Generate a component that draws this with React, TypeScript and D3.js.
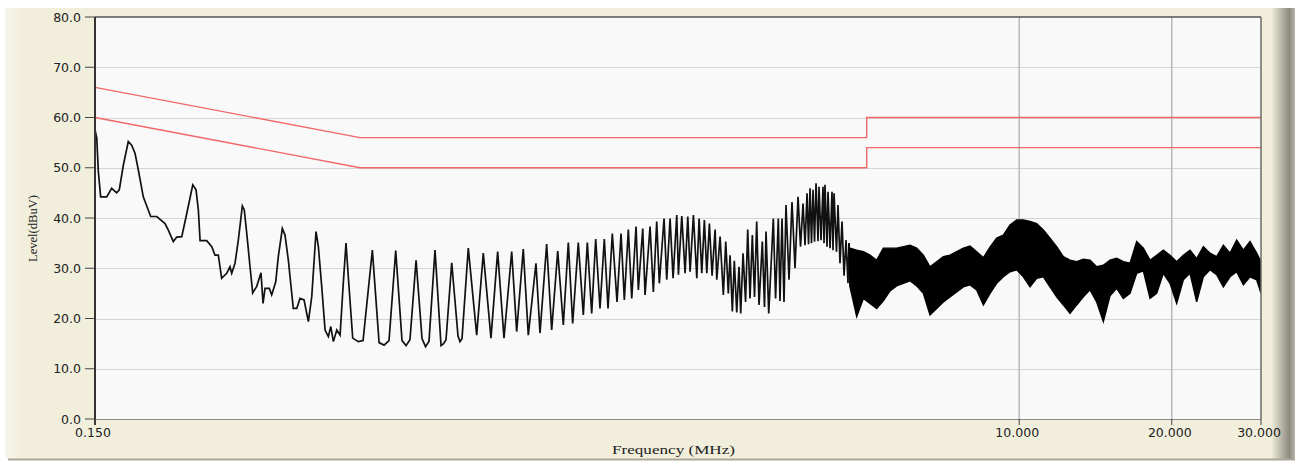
import { useEffect, useRef } from 'react';
import * as d3 from 'd3';

// limit lines (MHz / dBuV)
const limitFreq = [0.15, 0.5, 5, 5, 30];
const upperLimit = [66, 56, 56, 60, 60];
const lowerLimit = [60, 50, 50, 54, 54];

const traceFreq = [
    0.150, 0.1512, 0.1523, 0.1539, 0.1582, 0.1618, 0.1655, 0.1675, 0.1706, 0.1745,
    0.1772, 0.1799, 0.1826, 0.1868, 0.1932, 0.1986, 0.2062, 0.2093, 0.2141, 0.2175,
    0.2225, 0.2276, 0.2339, 0.2374, 0.2399, 0.2418, 0.2492, 0.2550, 0.2588, 0.2627,
    0.2667, 0.2729, 0.2770, 0.2792, 0.2834, 0.2877, 0.2930, 0.2956, 0.2989, 0.3034,
    0.3071, 0.3128, 0.3189, 0.3219, 0.3248, 0.3312, 0.3348, 0.3410, 0.3450, 0.3514,
    0.3557, 0.3611, 0.3693, 0.3752, 0.3808, 0.3878, 0.3955, 0.4016, 0.4095, 0.4139,
    0.4203, 0.4267, 0.4331, 0.4379, 0.4431, 0.4500, 0.4568, 0.4635, 0.4693, 0.4742,
    0.4838, 0.4962, 0.5071,
    0.5290, 0.5454, 0.5579, 0.5706, 0.5882, 0.6053, 0.6165, 0.6276, 0.6452, 0.6629,
    0.6735, 0.6843, 0.7032, 0.7227, 0.7310, 0.7393, 0.7587, 0.7807, 0.7878, 0.7950,
    0.8180, 0.8498, 0.8757, 0.9068, 0.9348, 0.9621, 0.9964, 1.0192, 1.0502, 1.0744,
    1.1126, 1.1331, 1.1680, 1.1949, 1.2282, 1.2597, 1.2888, 1.3145, 1.3485, 1.3796,
    1.4050, 1.4331, 1.4595, 1.4883, 1.5177, 1.5435, 1.5740, 1.6080, 1.6376, 1.6623,
    1.6928, 1.7192, 1.7532, 1.7715, 1.8074, 1.8263, 1.8683, 1.8965, 1.9260, 1.9488,
    1.9910, 2.0154, 2.0463, 2.0744, 2.1096, 2.1252, 2.1582, 2.1908, 2.2178, 2.2410,
    2.2752, 2.3106, 2.3348, 2.3634, 2.3913, 2.4179, 2.4464, 2.4765, 2.5109, 2.5301,
    2.5683, 2.6067, 2.6352, 2.6663, 2.6873, 2.7153, 2.7399, 2.7702, 2.7990, 2.8209,
    2.8508, 2.8837, 2.9121, 2.9426, 2.9738, 3.0035, 3.0333, 3.0656, 3.1118, 3.1428,
    3.1646, 3.204, 3.2712, 3.305, 3.3462, 3.372, 3.403, 3.434, 3.465, 3.513,
    3.561, 3.610, 3.660, 3.702, 3.744, 3.778, 3.813, 3.839, 3.865, 3.891,
    3.918, 3.945, 3.972, 4.008, 4.026, 4.063, 4.100, 4.119, 4.137, 4.175,
    4.194, 4.233, 4.271, 4.290, 4.310, 4.359, 4.389, 4.429, 4.470, 4.511,
    4.552, 4.593, 4.614,
];
const traceLevel = [
    57.6, 55.9, 49.2, 44.2, 44.2, 45.9, 45.0, 45.6, 50.5, 55.2,
    54.5, 52.9, 49.6, 44.2, 40.3, 40.3, 38.9, 37.6, 35.3, 36.2,
    36.3, 40.9, 46.6, 45.6, 41.6, 35.5, 35.5, 34.3, 32.6, 32.6,
    28.0, 29.0, 30.3, 29.0, 31.0, 35.6, 42.4, 41.6, 37.0, 30.3,
    25.1, 26.4, 29.1, 23.0, 26.0, 26.0, 24.7, 27.3, 32.3, 37.9,
    36.6, 31.6, 22.0, 22.0, 24.0, 23.7, 19.4, 24.3, 37.3, 34.3,
    26.3, 17.7, 16.4, 18.4, 15.4, 17.7, 16.7, 27.0, 35.0, 28.3,
    16.1, 15.4, 15.6,
    33.6, 15.2, 14.7, 15.6, 33.5, 15.6, 14.6, 15.8, 31.6, 16.0,
    14.4, 15.5, 33.6, 14.6, 15.0, 15.8, 31.1, 16.5, 15.4, 16.0,
    34.0, 16.7, 33.0, 16.1, 33.3, 16.1, 33.3, 17.4, 33.8, 16.7,
    31.0, 17.1, 34.8, 17.7, 33.4, 18.7, 35.1, 19.0, 35.1, 20.7,
    35.1, 21.0, 35.8, 22.0, 35.8, 22.0, 36.9, 23.3, 36.9, 23.7,
    37.7, 24.0, 38.3, 25.7, 37.9, 24.7, 38.3, 25.3, 39.3, 27.0,
    39.9, 27.7, 39.9, 28.0, 40.6, 28.7, 40.4, 29.0, 40.3, 29.3,
    40.6, 28.0, 39.9, 29.0, 39.6, 29.0, 38.9, 28.5, 37.7, 27.7,
    36.3, 24.7, 35.3, 25.0, 32.6, 21.4, 31.5, 21.2, 30.3, 21.0,
    33.0, 23.3, 37.7, 24.0, 36.6, 24.3, 39.3, 22.7, 35.3, 22.3,
    37.3, 21.0, 39.9, 24.0, 39.9, 23.5, 39.9, 23.3, 42.6, 27.7,
    43.2, 30.0, 44.2, 34.3, 42.9, 34.6, 44.9, 34.8, 45.9, 35.0,
    45.6, 35.3, 46.9, 35.4, 46.2, 35.6, 46.2, 35.0, 46.6, 34.3,
    45.2, 34.0, 45.2, 33.6, 44.9, 33.3, 42.6, 31.0, 39.3, 28.5,
    35.6, 27.0, 35.0,
];

// dense part 4.6 .. 30 MHz, upper / lower edge of the band
const bandFreq = [
    4.635, 4.778, 4.925, 5.076, 5.232, 5.393, 5.559, 5.730, 5.906, 6.088,
    6.275, 6.468, 6.667, 6.872, 7.083, 7.301, 7.526, 7.757, 7.996, 8.242,
    8.496, 8.757, 9.026, 9.304, 9.590, 9.885, 10.189, 10.502, 10.825, 11.158,
    11.501, 11.855, 12.220, 12.596, 12.983, 13.382, 13.794, 14.218, 14.655, 15.106,
    15.571, 16.050, 16.544, 17.053, 17.577, 18.118, 18.675, 19.249, 19.841, 20.451,
    21.080, 21.728, 22.396, 23.085, 23.795, 24.527, 25.282, 26.059, 26.861, 27.687,
    28.538, 29.416, 30.0,
];
const bandTop = [
    34.0, 33.6, 33.3, 32.6, 31.6, 34.0, 34.0, 34.0, 34.3, 34.6,
    34.0, 32.6, 30.3, 31.3, 32.3, 32.6, 33.3, 34.0, 34.4, 33.3,
    32.1, 34.2, 36.0, 36.6, 38.6, 39.6, 39.6, 39.3, 38.9, 37.6,
    36.0, 34.3, 32.3, 31.6, 31.3, 31.8, 31.6, 30.3, 30.6, 31.6,
    32.0, 31.3, 31.0, 35.3, 34.0, 31.6, 32.6, 33.6, 32.6, 31.3,
    32.6, 33.6, 31.9, 34.3, 33.0, 32.3, 34.6, 33.0, 35.6, 33.6,
    35.3, 33.0, 31.3,
];
const bandBottom = [
    26.3, 20.4, 24.0, 23.0, 22.0, 23.5, 25.5, 26.5, 27.0, 27.5,
    26.5, 25.0, 20.7, 22.0, 23.3, 24.3, 25.3, 26.3, 26.7, 25.7,
    22.7, 25.0, 27.0, 28.3, 29.3, 29.7, 28.3, 26.3, 28.0, 28.3,
    26.3, 24.3, 22.7, 21.0, 22.7, 24.3, 25.7, 23.3, 19.4, 24.5,
    26.0, 24.0, 25.0, 29.0, 29.5, 24.0, 25.0, 29.0, 27.0, 23.0,
    27.7, 29.0, 23.3, 28.3, 29.7, 28.7, 26.3, 28.3, 29.3, 26.7,
    28.3, 27.7, 25.0,
];

const yTicks = [0, 10, 20, 30, 40, 50, 60, 70, 80];
const xTicks = [0.15, 10, 20, 30];
const xGrid = [10, 20];

const W = 1295;
const H = 462;
const plot = { left: 95, right: 1261, top: 17, bottom: 419 };

function EmiChart() {
    const svgRef = useRef<SVGSVGElement>(null);

    useEffect(() => {
        if (!svgRef.current) return;
        const svg = d3.select(svgRef.current);
        svg.selectAll('*').remove();

        const x = d3.scaleLog().domain([0.15, 30]).range([plot.left, plot.right]);
        const y = d3.scaleLinear().domain([0, 80]).range([plot.bottom, plot.top]);

        const defs = svg.append('defs');
        const rg = defs.append('linearGradient').attr('id', 'rightEdge').attr('x1', '0').attr('x2', '1');
        rg.append('stop').attr('offset', '0').attr('stop-color', '#ece9d6');
        rg.append('stop').attr('offset', '0.75').attr('stop-color', '#8d8b80');
        rg.append('stop').attr('offset', '1').attr('stop-color', '#b8b6aa');
        const lg = defs.append('linearGradient').attr('id', 'leftEdge').attr('x1', '0').attr('x2', '1');
        lg.append('stop').attr('offset', '0').attr('stop-color', '#f8f6ec');
        lg.append('stop').attr('offset', '1').attr('stop-color', '#f1eedc');
        defs.append('clipPath').attr('id', 'plotClip')
            .append('rect')
            .attr('x', plot.left).attr('y', plot.top)
            .attr('width', plot.right - plot.left).attr('height', plot.bottom - plot.top);

        // panel
        svg.append('rect').attr('x', 0).attr('y', 0).attr('width', W).attr('height', H).attr('fill', '#ffffff');
        svg.append('rect').attr('x', 5).attr('y', 8).attr('width', W - 5).attr('height', 451).attr('fill', '#f1eedc');
        svg.append('rect').attr('x', 5).attr('y', 8).attr('width', 17).attr('height', 451).attr('fill', 'url(#leftEdge)');
        svg.append('rect').attr('x', 1272).attr('y', 8).attr('width', 23).attr('height', 451).attr('fill', 'url(#rightEdge)');
        svg.append('line').attr('x1', 8).attr('x2', W).attr('y1', 459.5).attr('y2', 459.5)
            .attr('stroke', '#a9a796').attr('stroke-width', 2);

        // plot area
        svg.append('rect')
            .attr('x', plot.left).attr('y', plot.top)
            .attr('width', plot.right - plot.left).attr('height', plot.bottom - plot.top)
            .attr('fill', '#f9f9f9');

        svg.append('g').selectAll('line')
            .data(yTicks.filter(t => t > 0 && t < 80))
            .join('line')
            .attr('x1', plot.left).attr('x2', plot.right)
            .attr('y1', d => Math.round(y(d)) + 0.5).attr('y2', d => Math.round(y(d)) + 0.5)
            .attr('stroke', '#d5d5d5').attr('stroke-width', 1.2);

        svg.append('g').selectAll('line')
            .data(xGrid)
            .join('line')
            .attr('x1', d => x(d)).attr('x2', d => x(d))
            .attr('y1', plot.top).attr('y2', plot.bottom)
            .attr('stroke', '#b9b9b9').attr('stroke-width', 1.5);

        const line = d3.line<[number, number]>().x(d => x(d[0])).y(d => y(d[1]));

        // limits
        svg.append('path')
            .attr('d', line(limitFreq.map((f, i) => [f, upperLimit[i]] as [number, number])))
            .attr('fill', 'none').attr('stroke', '#f26868').attr('stroke-width', 1.4);
        svg.append('path')
            .attr('d', line(limitFreq.map((f, i) => [f, lowerLimit[i]] as [number, number])))
            .attr('fill', 'none').attr('stroke', '#f26868').attr('stroke-width', 1.4);

        // trace
        const pts = traceFreq.map((f, i) => [f, traceLevel[i]] as [number, number]);
        const g = svg.append('g').attr('clip-path', 'url(#plotClip)');
        g.append('path')
            .attr('d', line(pts))
            .attr('fill', 'none').attr('stroke', '#111').attr('stroke-width', 1.7);

        const area = d3.area<number>()
            .x(i => x(bandFreq[i]))
            .y0(i => y(bandBottom[i]))
            .y1(i => y(bandTop[i]));
        g.append('path')
            .attr('d', area(d3.range(bandFreq.length)))
            .attr('fill', '#000').attr('stroke', '#000').attr('stroke-width', 1.4);
        g.append('path')
            .attr('d', line([pts[pts.length - 1], [bandFreq[0], bandBottom[0]]]))
            .attr('stroke', '#000').attr('stroke-width', 1.5);

        // frame
        svg.append('line').attr('x1', plot.left).attr('x2', plot.right).attr('y1', plot.top).attr('y2', plot.top)
            .attr('stroke', '#555').attr('stroke-width', 1.5);
        svg.append('line').attr('x1', plot.right).attr('x2', plot.right).attr('y1', plot.top).attr('y2', plot.bottom)
            .attr('stroke', '#6a6a6a').attr('stroke-width', 1.5);
        svg.append('line').attr('x1', plot.left).attr('x2', plot.right).attr('y1', plot.bottom + 0.5).attr('y2', plot.bottom + 0.5)
            .attr('stroke', '#8a8a8a').attr('stroke-width', 1);
        svg.append('line').attr('x1', plot.left).attr('x2', plot.left).attr('y1', plot.top).attr('y2', plot.bottom + 6)
            .attr('stroke', '#333').attr('stroke-width', 2);

        // y axis
        const yAxis = svg.append('g');
        yAxis.selectAll('line')
            .data(yTicks)
            .join('line')
            .attr('x1', 85).attr('x2', plot.left)
            .attr('y1', d => y(d)).attr('y2', d => y(d))
            .attr('stroke', '#444').attr('stroke-width', 1);
        yAxis.selectAll('text')
            .data(yTicks)
            .join('text')
            .attr('x', 81).attr('y', d => y(d) + 4.5)
            .attr('text-anchor', 'end')
            .attr('font-family', '"DejaVu Sans", Verdana, sans-serif')
            .attr('font-size', 12.5)
            .attr('fill', '#222')
            .text(d => d.toFixed(1));

        // x axis
        const xAxis = svg.append('g');
        xAxis.selectAll('line')
            .data(xTicks)
            .join('line')
            .attr('x1', d => x(d)).attr('x2', d => x(d))
            .attr('y1', plot.bottom).attr('y2', plot.bottom + 6)
            .attr('stroke', '#444').attr('stroke-width', 1);
        xAxis.selectAll('text')
            .data(xTicks)
            .join('text')
            .attr('x', d => x(d) - 2).attr('y', 437)
            .attr('text-anchor', 'middle')
            .attr('font-family', '"DejaVu Sans", Verdana, sans-serif')
            .attr('font-size', 12.5)
            .attr('fill', '#222')
            .text(d => d.toFixed(3));

        svg.append('text')
            .attr('x', 612).attr('y', 454)
            .attr('font-family', '"Liberation Serif", "Times New Roman", serif')
            .attr('font-size', 13)
            .attr('textLength', 123).attr('lengthAdjust', 'spacingAndGlyphs')
            .attr('fill', '#222')
            .text('Frequency (MHz)');

        svg.append('text')
            .attr('transform', 'translate(37,262) rotate(-90)')
            .attr('font-family', '"Liberation Serif", "Times New Roman", serif')
            .attr('font-size', 13)
            .attr('textLength', 67).attr('lengthAdjust', 'spacingAndGlyphs')
            .attr('fill', '#222')
            .text('Level(dBuV)');
    }, []);

    return (
        <svg ref={svgRef} width={W} height={H} style={{ position: 'absolute', left: 0, top: 0 }}></svg>
    );
}

export default function App() {
    return <EmiChart />;
}
